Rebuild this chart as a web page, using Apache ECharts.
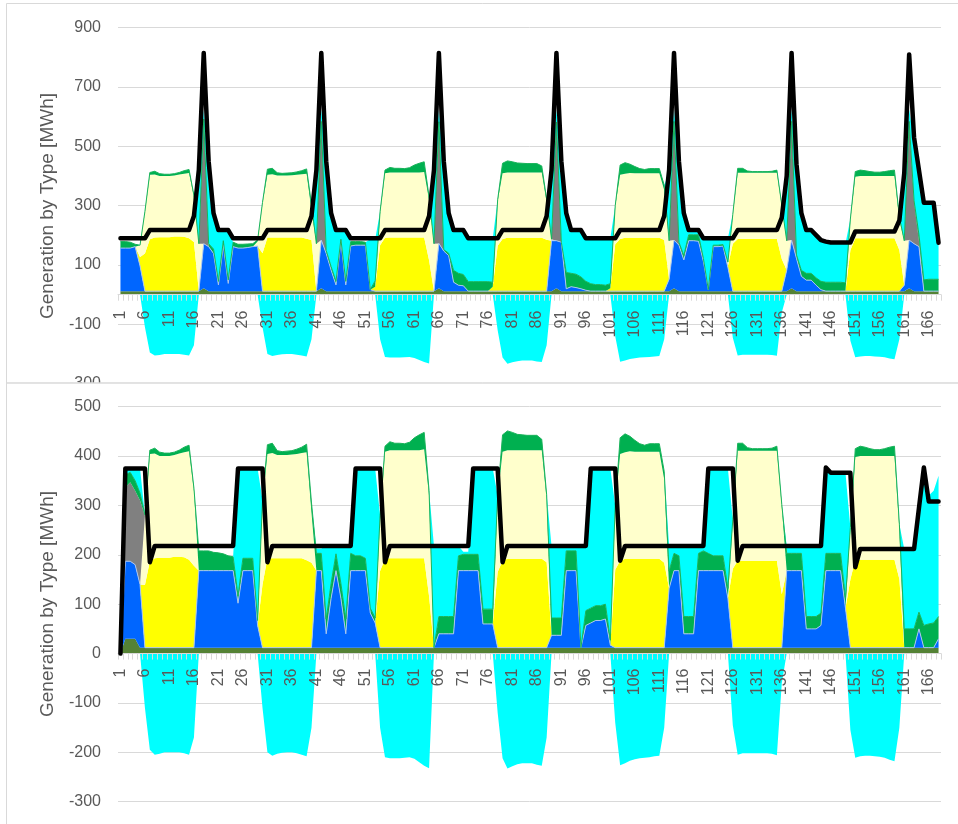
<!DOCTYPE html>
<html>
<head>
<meta charset="utf-8">
<script src="https://cdn.jsdelivr.net/npm/echarts@6/dist/echarts.min.js"></script>
<style>
  html, body { margin: 0; padding: 0; background: #ffffff; }
  #chart { width: 958px; height: 824px; }
</style>
</head>
<body>
<div id="chart"></div>
<script>
// Hour index for one week (1..168)
const hours = Array.from({ length: 168 }, (_, i) => String(i + 1));

// ---------- Upper scenario (MWh per hour) ----------
const topBase = [
  12,12,12,12,12,12,12,12,12,12,12,12,12,12,12,12,12,22,12,12,12,12,12,12,
  12,12,12,12,12,12,12,12,12,12,12,12,12,12,12,12,12,22,12,12,12,12,12,12,
  12,12,12,12,12,12,12,12,12,12,12,12,12,12,12,12,12,22,12,12,12,12,12,12,
  12,12,12,12,12,12,12,12,12,12,12,12,12,12,12,12,12,22,12,12,12,12,12,12,
  12,12,12,12,12,12,12,12,12,12,12,12,12,12,12,12,12,22,12,12,12,12,12,12,
  12,12,12,12,12,12,12,12,12,12,12,12,12,12,12,12,12,22,12,12,12,12,12,12,
  12,12,12,12,12,12,12,12,12,12,12,12,12,12,12,12,12,22,12,12,12,12,12,12
];
const topHydro = [
  145,145,145,150,85,0,0,0,0,0,0,0,0,0,0,0,0,150,150,127,21,155,26,150,
  145,145,147,150,152,0,0,0,0,0,0,0,0,0,0,0,0,162,127,71,21,167,21,152,
  155,155,155,5,0,0,0,0,0,0,0,0,0,0,0,0,0,151,135,120,30,20,18,0,
  0,0,0,0,0,0,0,0,0,0,0,0,0,0,0,0,170,160,165,8,15,12,8,3,
  0,0,0,0,0,0,0,0,0,0,0,0,0,0,0,0,40,162,155,105,170,170,168,100,
  5,150,150,152,80,0,0,0,0,0,0,0,0,0,0,0,70,162,110,50,37,37,20,5,
  0,0,0,0,0,0,0,0,0,0,0,0,0,0,0,0,20,162,160,150,0,0,0,0
];
const topPV = [
  0,0,0,0,30,127,175,181,182,182,182,184,184,183,178,166,0,0,0,0,0,0,0,0,
  0,0,0,0,0,128,181,181,181,181,181,181,181,181,177,172,0,0,0,0,0,0,0,0,
  0,0,0,0,15,155,180,181,181,181,181,181,181,181,181,104,0,0,0,0,0,0,0,0,
  0,0,0,0,15,153,176,180,180,180,180,180,180,180,180,173,0,0,0,0,0,0,0,0,
  0,0,0,0,10,158,176,180,180,180,180,180,180,180,180,172,0,0,0,0,0,0,0,0,
  0,0,0,0,5,160,176,176,176,176,176,176,176,176,176,108,0,0,0,0,0,0,0,0,
  0,0,0,0,0,138,178,178,178,178,178,178,178,178,178,139,0,0,0,0,0,0,0,0
];
const topCSP = [
  0,0,0,0,40,140,217,212,206,206,206,206,209,213,220,152,160,0,0,0,0,0,0,0,
  0,0,0,0,15,168,211,213,209,209,209,210,211,213,219,101,160,0,0,0,0,0,0,0,
  0,0,0,0,0,107,217,219,219,219,219,219,219,219,221,203,160,0,0,0,0,0,0,0,
  0,0,0,0,0,150,221,220,220,220,220,220,220,220,220,127,5,0,0,0,0,0,0,0,
  0,0,0,0,0,127,216,216,218,217,217,217,217,217,217,169,130,0,0,0,0,0,0,0,
  0,0,0,0,10,97,223,223,223,223,223,223,223,223,223,177,100,0,0,0,0,0,0,0,
  0,0,0,0,0,102,208,210,210,210,210,210,210,210,210,101,150,0,0,0,0,0,0,0
];
const topGas = [
  0,0,0,0,0,0,0,0,0,0,0,0,0,0,0,0,0,420,0,0,0,0,0,0,
  0,0,0,0,0,0,0,0,0,0,0,0,0,0,0,0,0,400,0,0,0,0,0,0,
  0,0,0,0,0,0,0,0,0,0,0,0,0,0,0,0,0,410,0,0,0,0,0,0,
  0,0,0,0,0,0,0,0,0,0,0,0,0,0,0,0,0,400,0,0,0,0,0,0,
  0,0,0,0,0,0,0,0,0,0,0,0,0,0,0,0,0,400,0,0,0,0,0,0,
  0,0,0,0,0,0,0,0,0,0,0,0,0,0,0,0,0,400,0,0,0,0,0,0,
  0,0,0,0,0,0,0,0,0,0,0,0,0,0,0,0,0,400,140,20,0,0,0,0
];
const topWind = [
  22,22,20,8,0,2,8,11,8,6,6,6,7,10,12,5,0,0,10,15,12,15,12,15,
  13,13,12,10,5,3,19,20,9,7,8,8,10,12,16,20,0,0,10,12,12,8,12,15,
  12,12,10,0,20,6,11,17,14,14,13,16,25,31,34,11,0,0,5,8,40,40,38,32,
  32,32,32,32,15,5,34,39,36,32,31,30,30,30,22,10,0,0,0,55,45,45,40,30,
  25,22,22,20,15,3,33,37,30,23,16,13,16,16,16,16,0,0,10,15,20,20,22,10,
  0,5,5,5,3,2,15,15,6,4,4,4,4,5,9,5,0,0,12,20,23,23,25,28,
  30,30,30,30,28,3,17,20,18,15,13,13,15,18,20,10,0,0,5,20,38,40,40,40
];
const topDischarge = [
  0,0,0,0,0,0,0,0,0,0,0,0,0,0,0,0,240,30,268,111,173,36,168,0,
  0,0,0,0,0,0,0,0,0,0,0,0,0,0,0,0,240,40,291,170,173,31,173,0,
  0,0,0,170,140,0,0,0,0,0,0,0,0,0,0,0,240,40,288,125,136,146,150,146,
  146,146,146,146,148,0,0,0,0,0,0,0,0,0,0,0,225,40,263,190,146,149,158,145,
  153,156,156,158,153,0,0,0,0,0,0,0,0,0,0,0,230,40,263,133,16,16,16,68,
  173,23,23,21,80,0,0,0,0,0,0,0,0,0,0,0,210,40,296,183,143,143,143,137,
  134,131,131,131,133,0,0,0,0,0,0,0,0,0,0,0,220,40,203,218,258,253,253,123
];
const topDemand = [
  190,190,190,190,190,190,218,218,218,218,218,218,218,218,218,265,420,815,450,275,218,218,218,190,
  190,190,190,190,190,190,218,218,218,218,218,218,218,218,218,265,420,815,450,275,218,218,218,190,
  190,190,190,190,190,190,218,218,218,218,218,218,218,218,218,265,420,815,450,275,218,218,218,190,
  190,190,190,190,190,190,218,218,218,218,218,218,218,218,218,265,420,815,450,275,218,218,218,190,
  190,190,190,190,190,190,218,218,218,218,218,218,218,218,218,265,420,815,450,275,218,218,218,190,
  190,190,190,190,190,190,218,218,218,218,218,218,218,218,218,260,400,815,440,275,218,218,201,184,
  179,176,176,176,176,176,213,213,213,213,213,213,213,213,213,250,410,810,530,420,310,310,310,175
];

// Storage charging (negative), same in both scenarios
const storageCharge = [
  0,0,0,0,0,-110,-195,-205,-203,-200,-200,-200,-200,-202,-205,-170,0,0,0,0,0,0,0,0,
  0,0,0,0,0,-110,-200,-207,-203,-201,-200,-200,-202,-205,-208,-150,0,0,0,0,0,0,0,0,
  0,0,0,0,0,-150,-210,-212,-212,-212,-211,-210,-213,-220,-227,-232,0,0,0,0,0,0,0,0,
  0,0,0,0,0,-120,-212,-233,-228,-224,-222,-222,-222,-225,-227,-170,0,0,0,0,0,0,0,0,
  0,0,0,0,0,-140,-226,-222,-217,-214,-212,-211,-210,-208,-207,-150,0,0,0,0,0,0,0,0,
  0,0,0,0,0,-145,-205,-202,-202,-202,-202,-202,-202,-203,-206,-60,0,0,0,0,0,0,0,0,
  0,0,0,0,0,-155,-211,-208,-207,-207,-208,-209,-211,-215,-218,-150,0,0,0,0,0,0,0,0
];

// ---------- Lower scenario (MWh per hour) ----------
const botBase = [
  0,30,30,30,12,12,12,12,12,12,12,12,12,12,12,12,12,12,12,12,12,12,12,12,
  12,12,12,12,12,12,12,12,12,12,12,12,12,12,12,12,12,12,12,12,12,12,12,12,
  12,12,12,12,12,12,12,12,12,12,12,12,12,12,12,12,12,12,12,12,12,12,12,12,
  12,12,12,12,12,12,12,12,12,12,12,12,12,12,12,12,12,12,12,12,12,12,12,12,
  12,12,12,12,12,12,12,12,12,12,12,12,12,12,12,12,12,12,12,12,12,12,12,12,
  12,12,12,12,12,12,12,12,12,12,12,12,12,12,12,12,12,12,12,12,12,12,12,12,
  12,12,12,12,12,12,12,12,12,12,12,12,12,12,12,12,12,12,12,12,12,12,12,12
];
const botHydro = [
  0,157,157,150,128,0,0,0,0,0,0,0,0,0,0,0,156,156,156,156,156,156,156,156,
  90,156,156,156,45,0,0,0,0,0,0,0,0,0,0,0,156,156,28,100,156,100,28,156,
  156,156,156,70,50,0,0,0,0,0,0,0,0,0,0,0,0,28,28,28,28,156,156,156,
  156,156,48,48,48,0,0,0,0,0,0,0,0,0,0,0,25,25,25,156,156,156,0,45,
  50,55,55,58,5,0,0,0,0,0,0,0,0,0,0,0,120,156,156,28,28,28,156,156,
  156,156,156,156,100,0,0,0,0,0,0,0,0,0,0,0,156,156,156,156,38,38,38,45,
  156,156,156,156,80,0,0,0,0,0,0,0,0,0,0,0,0,0,0,38,0,0,0,18
];
const botPV = [
  0,0,0,0,0,127,175,181,182,182,182,184,184,183,178,166,0,0,0,0,0,0,0,0,
  0,0,0,0,0,128,181,181,181,181,181,181,181,181,177,172,0,0,0,0,0,0,0,0,
  0,0,0,0,0,155,180,181,181,181,181,181,181,181,181,104,0,0,0,0,0,0,0,0,
  0,0,0,0,0,153,176,180,180,180,180,180,180,180,180,173,0,0,0,0,0,0,0,0,
  0,0,0,0,0,158,176,180,180,180,180,180,180,180,180,172,0,0,0,0,0,0,0,0,
  0,0,0,0,0,160,176,176,176,176,176,176,176,176,176,108,0,0,0,0,0,0,0,0,
  0,0,0,0,0,138,178,178,178,178,178,178,178,178,178,139,0,0,0,0,0,0,0,0
];
const botCSP = [
  0,0,0,0,0,140,217,212,206,206,206,206,209,213,220,152,0,0,0,0,0,0,0,0,
  0,0,0,0,0,168,211,213,209,209,209,210,211,213,219,101,0,0,0,0,0,0,0,0,
  0,0,0,0,0,107,217,219,219,219,219,219,219,219,221,203,0,0,0,0,0,0,0,0,
  0,0,0,0,0,150,221,220,220,220,220,220,220,220,220,127,0,0,0,0,0,0,0,0,
  0,0,0,0,0,127,216,216,218,217,217,217,217,217,217,169,0,0,0,0,0,0,0,0,
  0,0,0,0,0,97,223,223,223,223,223,223,223,223,223,177,0,0,0,0,0,0,0,0,
  0,0,0,0,0,102,208,210,210,210,210,210,210,210,210,101,0,0,0,0,0,0,0,0
];
const botGas = [
  0,150,160,150,170,0,0,0,0,0,0,0,0,0,0,0,0,0,0,0,0,0,0,0,
  0,0,0,0,0,0,0,0,0,0,0,0,0,0,0,0,0,0,0,0,0,0,0,0,
  0,0,0,0,0,0,0,0,0,0,0,0,0,0,0,0,0,0,0,0,0,0,0,0,
  0,0,0,0,0,0,0,0,0,0,0,0,0,0,0,0,0,0,0,0,0,0,0,0,
  0,0,0,0,0,0,0,0,0,0,0,0,0,0,0,0,0,0,0,0,0,0,0,0,
  0,0,0,0,0,0,0,0,0,0,0,0,0,0,0,0,0,0,0,0,0,0,0,0,
  0,0,0,0,0,0,0,0,0,0,0,0,0,0,0,0,0,0,0,0,0,0,0,0
];
const botWind = [
  0,25,20,20,15,2,8,11,8,6,6,6,7,10,12,5,40,40,40,37,36,34,30,28,
  15,25,25,25,10,3,19,20,9,7,8,8,10,12,16,20,35,35,30,30,34,30,30,35,
  30,30,25,10,10,6,11,17,14,14,13,16,25,31,34,11,0,35,35,35,35,30,33,33,
  33,33,30,30,30,5,34,39,36,32,31,30,30,30,22,10,35,35,35,40,40,40,0,30,
  30,30,30,30,10,3,33,37,30,23,16,13,16,16,16,16,35,35,30,35,35,35,35,40,
  35,30,30,30,20,2,15,15,6,4,4,4,4,5,9,5,35,35,35,35,25,25,25,25,
  35,35,35,35,20,3,17,20,18,15,13,13,15,18,20,10,38,38,38,34,45,48,50,45
];
const botDischarge = [
  0,13,8,25,50,0,0,0,0,0,0,0,0,0,0,0,0,0,0,0,0,0,0,0,
  258,182,182,182,308,0,0,0,0,0,0,0,0,0,0,0,10,10,148,76,16,76,148,15,
  177,177,182,283,303,0,0,0,0,0,0,0,0,0,0,0,206,143,143,143,143,20,5,5,
  174,174,285,285,285,0,0,0,0,0,0,0,0,0,0,0,146,146,146,10,10,10,206,131,
  283,278,278,275,348,0,0,0,0,0,0,0,0,0,0,0,51,15,20,143,143,143,15,10,
  172,177,177,177,243,0,0,0,0,0,0,0,0,0,0,0,15,15,15,15,143,143,143,136,
  174,163,163,163,254,0,0,0,0,0,0,0,0,0,0,0,162,162,162,216,318,260,268,285
];
const botDemand = [
  0,375,375,375,375,375,185,218,218,218,218,218,218,218,218,218,218,218,218,218,218,218,218,218,
  375,375,375,375,375,375,185,218,218,218,218,218,218,218,218,218,218,218,218,218,218,218,218,218,
  375,375,375,375,375,375,185,218,218,218,218,218,218,218,218,218,218,218,218,218,218,218,218,218,
  375,375,375,375,375,375,185,218,218,218,218,218,218,218,218,218,218,218,218,218,218,218,218,218,
  375,375,375,375,375,375,188,218,218,218,218,218,218,218,218,218,218,218,218,218,218,218,218,218,
  375,375,375,375,375,375,188,218,218,218,218,218,218,218,218,218,218,218,218,218,218,218,218,218,
  377,366,366,366,366,366,175,212,212,212,212,212,212,212,212,212,212,212,212,295,377,308,308,308
];

// Axis ranges and ticks
const topAxis = { min: -300, max: 900, interval: 200 };
const botAxis = { min: -300, max: 500, interval: 100 };
const axisTitle = 'Generation by Type [MWh]';

const COLORS = {
  base: '#548235', hydro: '#0066ff', pv: '#ffff00', csp: '#ffffcc',
  gas: '#808080', wind: '#00b050', storage: '#00ffff', demand: '#000000'
};
const TEXT = '#595959';
const GRID = '#d9d9d9';
const FONT = '"Liberation Sans", Arial, sans-serif';

// Plot boxes (pixels) for the two panels
const panels = [
  { top: 27.7, height: 356, axis: topAxis, labelGap: 16 },
  { top: 406.7, height: 395, axis: botAxis, labelGap: 15 }
];

function stacked(name, data, color, idx, line) {
  return {
    name, type: 'line', data, xAxisIndex: idx, yAxisIndex: idx,
    stack: 'gen' + idx, symbol: 'none', showSymbol: false, silent: true,
    areaStyle: { color, opacity: 1 },
    lineStyle: line || { width: 0 },
    emphasis: { disabled: true }, z: 2
  };
}
function panelSeries(idx, d) {
  return [
    stacked('Base', d.base, COLORS.base, idx),
    stacked('Hydro', d.hydro, COLORS.hydro, idx, { width: 1, color: '#a9c4f0' }),
    stacked('Solar PV', d.pv, COLORS.pv, idx),
    stacked('Solar thermal', d.csp, COLORS.csp, idx),
    stacked('Gas', d.gas, COLORS.gas, idx),
    stacked('Wind', d.wind, COLORS.wind, idx, { width: 1, color: '#19b35a' }),
    stacked('Storage', d.dis, COLORS.storage, idx),
    {
      name: 'Storage charging', type: 'line', data: storageCharge,
      xAxisIndex: idx, yAxisIndex: idx, symbol: 'none', showSymbol: false, silent: true,
      areaStyle: { color: COLORS.storage, opacity: 1 }, lineStyle: { width: 0 }, z: 2
    },
    {
      name: 'Demand', type: 'line', data: d.demand,
      xAxisIndex: idx, yAxisIndex: idx, symbol: 'none', showSymbol: false, silent: true,
      lineStyle: { width: 4.5, color: COLORS.demand, join: 'round', cap: 'round' }, z: 6
    }
  ];
}

// The category axis sits on the zero line of the value axis
function xAxisFor(idx) {
  const p = panels[idx];
  const zeroFromBottom = p.height * (0 - p.axis.min) / (p.axis.max - p.axis.min);
  return {
    type: 'category', gridIndex: idx, data: hours, boundaryGap: true, z: 5,
    position: 'bottom', offset: -zeroFromBottom,
    axisLine: { onZero: false, lineStyle: { color: GRID, width: 1 } },
    axisTick: { show: true, interval: 0, length: 6, lineStyle: { color: GRID } },
    axisLabel: { interval: 4, rotate: 90, fontSize: 16, color: TEXT, fontFamily: FONT, margin: p.labelGap },
    splitLine: { show: false }
  };
}
function yAxisFor(idx) {
  const ax = panels[idx].axis;
  return {
    type: 'value', gridIndex: idx, min: ax.min, max: ax.max, interval: ax.interval,
    axisLine: { show: false }, axisTick: { show: false },
    axisLabel: { fontSize: 16, color: TEXT, fontFamily: FONT, margin: 17 },
    splitLine: { lineStyle: { color: GRID, width: 1 } }
  };
}

const chart = echarts.init(document.getElementById('chart'), null, { renderer: 'canvas' });
chart.setOption({
  animation: false,
  backgroundColor: '#ffffff',
  grid: panels.map(p => ({ left: 118, top: p.top, width: 823, height: p.height })),
  xAxis: [xAxisFor(0), xAxisFor(1)],
  yAxis: [yAxisFor(0), yAxisFor(1)],
  series: [
    ...panelSeries(0, { base: topBase, hydro: topHydro, pv: topPV, csp: topCSP, gas: topGas, wind: topWind, dis: topDischarge, demand: topDemand }),
    ...panelSeries(1, { base: botBase, hydro: botHydro, pv: botPV, csp: botCSP, gas: botGas, wind: botWind, dis: botDischarge, demand: botDemand })
  ],
  graphic: [
    // gap between the two panels hides the overflow of the upper one
    { type: 'rect', z: 100, shape: { x: 0, y: 383, width: 958, height: 13 }, style: { fill: '#ffffff' } },
    { type: 'rect', z: 101, shape: { x: 6.5, y: 3.5, width: 960, height: 379.5 }, style: { fill: 'none', stroke: GRID, lineWidth: 1 } },
    { type: 'rect', z: 101, shape: { x: 6.5, y: 383, width: 960, height: 460 }, style: { fill: 'none', stroke: GRID, lineWidth: 1 } },
    { type: 'text', z: 101, x: 47.5, y: 206, rotation: Math.PI / 2,
      style: { text: axisTitle, fill: TEXT, font: '19px ' + FONT, textAlign: 'center', textVerticalAlign: 'middle', align: 'center', verticalAlign: 'middle' } },
    { type: 'text', z: 101, x: 47.5, y: 604, rotation: Math.PI / 2,
      style: { text: axisTitle, fill: TEXT, font: '19px ' + FONT, textAlign: 'center', textVerticalAlign: 'middle', align: 'center', verticalAlign: 'middle' } }
  ]
});
</script>
</body>
</html>
